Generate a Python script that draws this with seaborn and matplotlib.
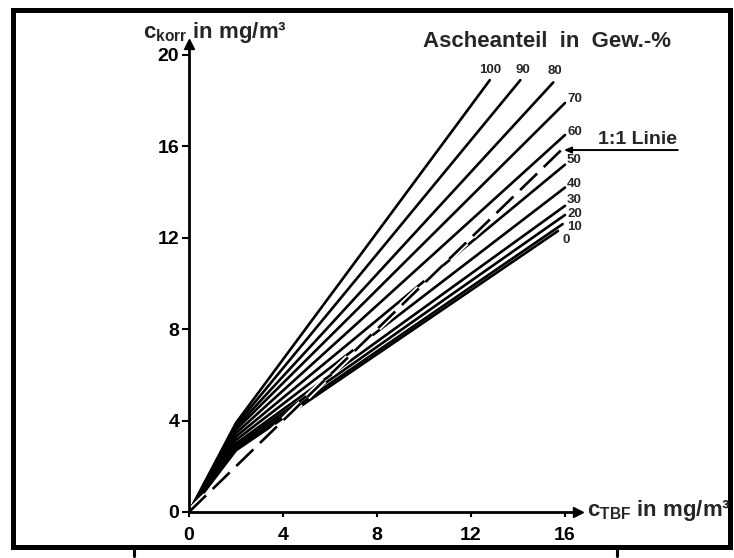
import matplotlib
matplotlib.use("Agg")
import matplotlib.pyplot as plt
import matplotlib.patheffects as pe
from matplotlib.patches import Rectangle
from matplotlib.lines import Line2D
import pandas as pd
import seaborn as sns

# Ash content of each curve (weight-%)
ash = [100, 90, 80, 70, 60, 50, 40, 30, 20, 10, 0]
# Knee of each curve (c_TBF, c_korr)
knee_x = [2.0, 2.0, 2.0, 2.0, 2.0, 2.0, 2.0, 2.0, 2.0, 2.0, 2.0]
knee_y = [3.9, 3.8, 3.7, 3.6, 3.45, 3.3, 3.15, 3.0, 2.9, 2.8, 2.7]
# End point of each curve
end_x = [12.8, 14.1, 15.5, 16.0, 16.0, 16.0, 16.0, 16.0, 16.0, 15.9, 15.7]
end_y = [18.9, 18.9, 18.8, 17.9, 16.5, 15.2, 14.2, 13.4, 13.0, 12.6, 12.3]
# 1:1 reference line
ref_x = [0.0, 15.9]
ref_y = [0.0, 15.9]

x_ticks = [0, 4, 8, 12, 16]
y_ticks = [0, 4, 8, 12, 16, 20]

rows = []
for a, kx, ky, ex, ey in zip(ash, knee_x, knee_y, end_x, end_y):
    rows += [(a, 0.0, 0.0), (a, kx, ky), (a, ex, ey)]
df = pd.DataFrame(rows, columns=["ash", "c_tbf", "c_korr"])
ref = pd.DataFrame({"c_tbf": ref_x, "c_korr": ref_y})

sns.set_theme(style="white")
plt.rcParams["font.family"] = ["Liberation Sans", "DejaVu Sans"]
plt.rcParams["font.weight"] = "bold"
plt.rcParams["mathtext.fontset"] = "custom"
plt.rcParams["mathtext.rm"] = "Liberation Sans:bold"
plt.rcParams["mathtext.it"] = "Liberation Sans:bold"
plt.rcParams["mathtext.default"] = "rm"

W, H = 734, 558
fig = plt.figure(figsize=(W / 100, H / 100), dpi=100)
fig.patch.set_facecolor("white")

# axis scale: 23.5 px per unit in x, 22.85 px per unit in y
x0, y0 = 189, 512
xmax, ymax = 16.55, 20.48
ax = fig.add_axes([x0 / W, (H - y0) / H, xmax * 23.5 / W, ymax * 22.85 / H])
ax.set_facecolor("none")

sns.lineplot(data=df, x="c_tbf", y="c_korr", units="ash", estimator=None,
             sort=False, color="black", lw=1.9, ax=ax, legend=False)
sns.lineplot(data=ref, x="c_tbf", y="c_korr", sort=False, color="black",
             lw=1.9, linestyle=(0, (9, 3.5)), ax=ax, legend=False,
             path_effects=[pe.Stroke(linewidth=4.5, foreground="white"), pe.Normal()])

ax.set_xlim(0, xmax)
ax.set_ylim(0, ymax)
ax.set_xticks(x_ticks)
ax.set_yticks(y_ticks)
ax.set_xticklabels([str(t) for t in x_ticks])
ax.set_yticklabels([str(t) for t in y_ticks])
ax.set_xlabel("")
ax.set_ylabel("")
for s in ["top", "right"]:
    ax.spines[s].set_visible(False)
for s in ["left", "bottom"]:
    ax.spines[s].set_linewidth(2.0)
    ax.spines[s].set_color("black")
ax.tick_params(axis="both", colors="black", width=1.5, labelsize=14)
ax.tick_params(axis="y", length=5, pad=2, direction="out", left=True)
ax.tick_params(axis="x", length=3.5, pad=7, direction="out", bottom=True)
for lab in ax.get_xticklabels() + ax.get_yticklabels():
    lab.set_fontweight("bold")

# arrow heads on the axes
ax.plot(1, 0, ">", color="black", ms=7, transform=ax.transAxes, clip_on=False)
ax.plot(0, 1, "^", color="black", ms=7, transform=ax.transAxes, clip_on=False)

# curve labels (offsets in points)
label_offsets = {
    100: (0, 7, "center"), 90: (1.5, 7, "center"), 80: (1.5, 8, "center"),
    70: (1.5, 3, "left"), 60: (1.5, 2.5, "left"), 50: (1, 3.5, "left"),
    40: (1.5, 2.5, "left"), 30: (1.5, 4, "left"), 20: (1.5, 1, "left"),
    10: (3, -1.8, "left"), 0: (6, -6.5, "center"),
}
for a, ex, ey in zip(ash, end_x, end_y):
    dx, dy, ha = label_offsets[a]
    ax.annotate(str(a), xy=(ex, ey), xytext=(dx, dy), textcoords="offset points",
                ha=ha, va="center", fontsize=9.5, fontweight="bold",
                annotation_clip=False)

# 1:1 line callout
ax.annotate("", xy=(ref_x[1] + 0.05, 15.84), xytext=(20.8, 15.84),
            arrowprops=dict(arrowstyle="-|>,head_length=0.35,head_width=0.15",
                            color="black", lw=1.4, shrinkA=0, shrinkB=0),
            annotation_clip=False)
ax.text(20.75, 15.95, "1:1 Linie", ha="right", va="bottom", fontsize=14,
        fontweight="bold", clip_on=False)

# axis titles and header
fig.text(143 / W, 1 - 38 / H, r"$\mathregular{c_{korr}}$ in mg/m³", fontsize=16,
         fontweight="bold", ha="left", va="baseline")
fig.text(587 / W, 1 - 516 / H, r"$\mathregular{c_{TBF}}$ in mg/m³", fontsize=16,
         fontweight="bold", ha="left", va="baseline")
fig.text(423 / W, 1 - 47 / H, "Ascheanteil  in  Gew.-%", fontsize=16,
         fontweight="bold", ha="left", va="baseline")

# outer frame
fig.add_artist(Rectangle((13 / W, (H - 547) / H), (730 - 13) / W, (547 - 10) / H,
                         transform=fig.transFigure, fill=False, lw=3.6,
                         ec="black"))
for mx in (134, 617):
    fig.add_artist(Line2D([mx / W, mx / W], [(H - 556) / H, (H - 547) / H],
                          transform=fig.transFigure, color="black", lw=2.2))

fig.savefig("out.png", dpi=100, facecolor="white")
